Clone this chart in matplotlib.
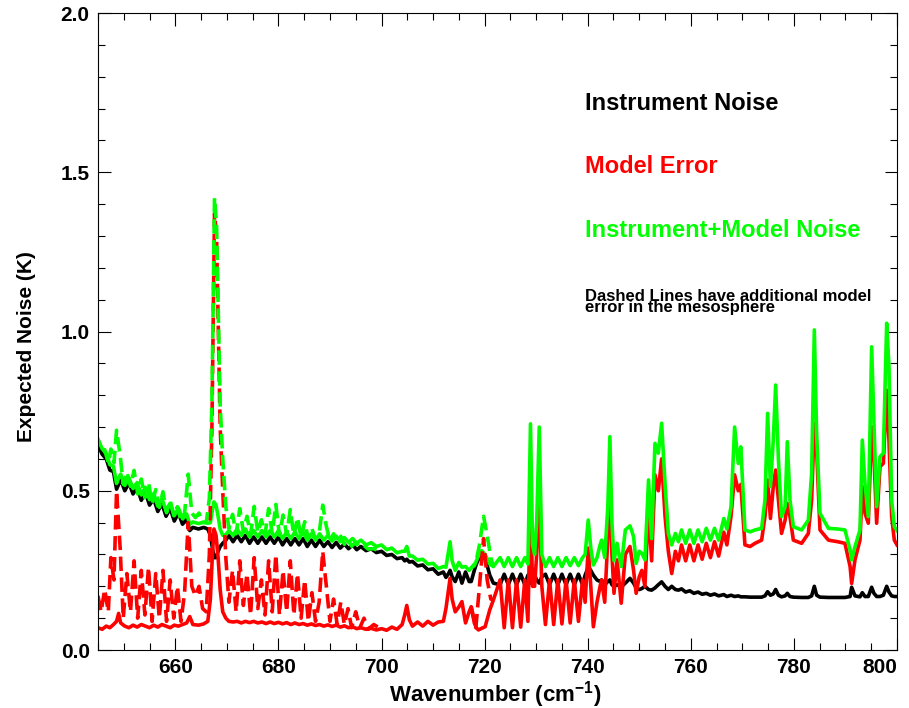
# Expected noise spectrum: instrument noise, model error, and combined
import numpy as np
import matplotlib.pyplot as plt
from matplotlib.ticker import MultipleLocator, FormatStrFormatter

# wavenumber grid (cm-1) shared by the solid curves
wn = [645.0, 645.8, 646.6, 647.3, 648.0, 648.6, 649.0, 649.4, 650.2, 651.0,
      651.8, 652.6, 653.4, 654.2, 655.0, 655.8, 656.6, 657.4, 658.2, 659.0,
      659.8, 660.6, 661.4, 662.2, 662.8, 663.4, 664.5, 665.5, 666.3, 666.8,
      667.2, 667.5, 667.9, 668.3, 668.7, 669.2, 669.8, 670.4,
      671.2, 672.0, 672.8, 673.6, 674.4, 675.2, 676.0, 676.8, 677.6, 678.4,
      679.2, 680.0, 680.8, 681.6, 682.4, 683.2, 684.0, 684.8, 685.6, 686.4,
      687.2, 688.0, 688.8, 689.6, 690.4, 691.2, 692.0, 692.8, 693.6, 694.4,
      695.2, 696.0, 697.0, 698.0, 699.0, 700.0, 701.0, 702.0, 703.0, 704.0,
      704.5, 704.9, 705.4, 706.0, 707.0, 708.0, 709.0, 710.0, 711.0, 712.0,
      712.5, 713.0, 713.3, 713.7, 714.3, 715.0, 715.6, 716.3, 717.0, 717.4,
      718.0, 718.4, 718.8, 719.4, 720.1, 721.0, 721.7,
      723.0, 723.8, 724.6, 725.4, 726.2, 727.0, 727.8, 728.4, 728.9, 729.3,
      729.7, 730.1, 730.6, 731.1, 731.8, 732.6, 733.4, 734.2, 735.0, 735.8,
      736.6, 737.4, 738.2, 739.0, 739.5, 740.1, 740.6, 741.1, 741.8, 742.4,
      742.7, 743.3, 743.9, 744.3, 744.7, 745.1,
      745.7, 746.5, 747.3, 748.2, 748.9, 749.4, 750.0, 750.5, 751.1, 751.8,
      752.4, 753.05, 753.7, 754.34, 755.0, 755.64, 756.3, 757.0, 757.6, 758.2,
      759.0, 759.8, 760.6, 761.4, 762.2, 763.0, 763.8, 764.6, 765.4, 766.4,
      767.0, 767.8, 768.5, 769.2, 769.7, 770.5, 771.5,
      772.45, 773.74, 774.39, 774.9, 775.45, 776.0, 776.46, 777.0, 777.6, 778.3,
      778.72, 779.24, 779.89, 781.5, 782.8, 783.44, 783.96, 784.41, 785.06, 786.7,
      788.5, 789.9, 790.9, 791.2, 791.85, 792.82, 793.27, 793.79, 794.43, 795.08,
      795.53, 796.05, 796.7, 797.35, 798.0, 798.44, 798.96, 799.48, 800.0]

instrument = [0.645, 0.615, 0.60, 0.565, 0.56, 0.505, 0.52, 0.535, 0.50, 0.525,
              0.49, 0.51, 0.47, 0.495, 0.455, 0.475, 0.435, 0.46, 0.42, 0.445,
              0.405, 0.43, 0.395, 0.41, 0.375, 0.385, 0.38, 0.385, 0.38, 0.36,
              0.32, 0.29, 0.29, 0.31, 0.325, 0.335, 0.345, 0.36,
              0.34, 0.36, 0.34, 0.36, 0.335, 0.355, 0.335, 0.355, 0.335, 0.355,
              0.335, 0.355, 0.33, 0.35, 0.33, 0.35, 0.33, 0.35, 0.325, 0.345,
              0.325, 0.345, 0.325, 0.34, 0.322, 0.338, 0.32, 0.333, 0.318, 0.33,
              0.315, 0.325, 0.312, 0.318, 0.306, 0.31, 0.297, 0.30, 0.287, 0.29,
              0.28, 0.285, 0.276, 0.278, 0.264, 0.267, 0.252, 0.255, 0.238, 0.245,
              0.228, 0.24, 0.25, 0.23, 0.215, 0.245, 0.21, 0.245, 0.215, 0.215,
              0.25, 0.27, 0.285, 0.303, 0.29, 0.235, 0.21,
              0.205, 0.238, 0.205, 0.238, 0.205, 0.238, 0.205, 0.235, 0.21, 0.22,
              0.235, 0.22, 0.21, 0.23, 0.238, 0.205, 0.238, 0.205, 0.238, 0.205,
              0.238, 0.205, 0.238, 0.205, 0.235, 0.26, 0.25, 0.235, 0.22, 0.215,
              0.22, 0.205, 0.215, 0.22, 0.205, 0.2,
              0.205, 0.198, 0.21, 0.225, 0.21, 0.195, 0.19, 0.193, 0.2, 0.19,
              0.188, 0.195, 0.205, 0.214, 0.2, 0.19, 0.2, 0.19, 0.188, 0.192,
              0.182, 0.186, 0.178, 0.182, 0.175, 0.178, 0.172, 0.176, 0.17, 0.174,
              0.168, 0.172, 0.168, 0.17, 0.167, 0.167, 0.166,
              0.166, 0.166, 0.17, 0.183, 0.172, 0.176, 0.19, 0.172, 0.167, 0.17,
              0.178, 0.168, 0.166, 0.165, 0.165, 0.17, 0.2, 0.172, 0.166, 0.165,
              0.165, 0.165, 0.168, 0.197, 0.17, 0.167, 0.18, 0.168, 0.168, 0.197,
              0.178, 0.168, 0.168, 0.172, 0.2, 0.182, 0.17, 0.168, 0.168]

model = [0.07, 0.065, 0.075, 0.07, 0.08, 0.09, 0.115, 0.085, 0.075, 0.07,
         0.078, 0.072, 0.08, 0.075, 0.07, 0.078, 0.072, 0.08, 0.075, 0.07,
         0.078, 0.075, 0.08, 0.085, 0.105, 0.08, 0.078, 0.082, 0.09, 0.16,
         0.30, 0.38, 0.36, 0.29, 0.19, 0.12, 0.10, 0.09,
         0.088, 0.09, 0.085, 0.09, 0.086, 0.09, 0.085, 0.088, 0.083, 0.088,
         0.083, 0.087, 0.082, 0.086, 0.08, 0.085, 0.08, 0.083, 0.078, 0.082,
         0.077, 0.08, 0.075, 0.079, 0.074, 0.078, 0.072, 0.076, 0.07, 0.073,
         0.067, 0.07, 0.065, 0.068, 0.063, 0.067, 0.062, 0.072, 0.065, 0.08,
         0.11, 0.14, 0.095, 0.075, 0.088, 0.075, 0.09, 0.078, 0.088, 0.09,
         0.13, 0.19, 0.225, 0.16, 0.12, 0.135, 0.152, 0.085, 0.12, 0.136,
         0.085, 0.07, 0.063, 0.068, 0.073, 0.126, 0.157,
         0.22, 0.07, 0.22, 0.07, 0.22, 0.072, 0.22, 0.09, 0.48, 0.2,
         0.2, 0.3, 0.48, 0.2, 0.08, 0.22, 0.08, 0.22, 0.082, 0.22,
         0.085, 0.22, 0.09, 0.22, 0.15, 0.32, 0.2, 0.073, 0.15, 0.2,
         0.22, 0.15, 0.35, 0.544, 0.3, 0.178,
         0.283, 0.147, 0.30, 0.325, 0.25, 0.178, 0.23, 0.25, 0.2, 0.45,
         0.28, 0.55, 0.5, 0.6, 0.42, 0.31, 0.24, 0.31, 0.28, 0.33,
         0.28, 0.33, 0.28, 0.33, 0.285, 0.335, 0.29, 0.34, 0.295, 0.37,
         0.33, 0.42, 0.55, 0.5, 0.52, 0.33, 0.325,
         0.335, 0.345, 0.419, 0.534, 0.413, 0.513, 0.565, 0.471, 0.366, 0.408,
         0.46, 0.419, 0.345, 0.335, 0.366, 0.471, 0.712, 0.628, 0.377, 0.345,
         0.34, 0.335, 0.262, 0.209, 0.283, 0.345, 0.513, 0.429, 0.398, 0.701,
         0.607, 0.398, 0.576, 0.586, 0.816, 0.659, 0.419, 0.345, 0.33]

combined = [0.662, 0.632, 0.617, 0.582, 0.577, 0.523, 0.54, 0.552, 0.517, 0.541,
            0.507, 0.526, 0.487, 0.511, 0.472, 0.491, 0.452, 0.476, 0.437, 0.461,
            0.422, 0.446, 0.412, 0.427, 0.395, 0.402, 0.397, 0.402, 0.398, 0.40,
            0.44, 0.465, 0.455, 0.42, 0.38, 0.36, 0.362, 0.375,
            0.36, 0.38, 0.36, 0.38, 0.355, 0.375, 0.355, 0.375, 0.355, 0.375,
            0.355, 0.375, 0.35, 0.37, 0.35, 0.37, 0.35, 0.37, 0.345, 0.365,
            0.345, 0.365, 0.345, 0.36, 0.342, 0.358, 0.34, 0.353, 0.338, 0.35,
            0.335, 0.345, 0.33, 0.337, 0.325, 0.33, 0.315, 0.32, 0.305, 0.31,
            0.31, 0.325, 0.295, 0.295, 0.282, 0.285, 0.27, 0.272, 0.256, 0.262,
            0.26, 0.31, 0.34, 0.28, 0.25, 0.275, 0.26, 0.262, 0.25, 0.258,
            0.265, 0.28, 0.295, 0.312, 0.30, 0.27, 0.262,
            0.29, 0.262, 0.29, 0.262, 0.29, 0.262, 0.29, 0.27, 0.71, 0.33,
            0.30, 0.4, 0.70, 0.3, 0.262, 0.29, 0.262, 0.29, 0.262, 0.29,
            0.265, 0.29, 0.265, 0.29, 0.3, 0.408, 0.32, 0.267, 0.29, 0.33,
            0.345, 0.29, 0.45, 0.67, 0.4, 0.28,
            0.335, 0.262, 0.377, 0.39, 0.356, 0.272, 0.31, 0.304, 0.283, 0.534,
            0.35, 0.649, 0.618, 0.712, 0.523, 0.366, 0.33, 0.366, 0.34, 0.377,
            0.335, 0.377, 0.335, 0.377, 0.34, 0.382, 0.345, 0.382, 0.345, 0.413,
            0.38, 0.45, 0.70, 0.586, 0.638, 0.377, 0.371,
            0.377, 0.382, 0.471, 0.743, 0.513, 0.659, 0.832, 0.597, 0.419, 0.45,
            0.654, 0.471, 0.387, 0.377, 0.408, 0.555, 1.005, 0.68, 0.429, 0.382,
            0.38, 0.377, 0.314, 0.283, 0.325, 0.377, 0.659, 0.523, 0.419, 0.952,
            0.712, 0.45, 0.607, 0.618, 1.026, 0.89, 0.471, 0.387, 0.375]

# dashed curves (extra mesospheric model error), only where they differ
wn_dash = [645.0, 645.6, 646.3, 647.0, 647.5, 648.1, 648.6, 649.3, 649.9, 650.6,
           651.3, 652.0, 652.7, 653.4, 654.1, 654.8, 655.5, 656.2, 656.9, 657.6,
           658.3, 659.0, 659.7, 660.4, 661.1, 661.8, 662.5, 663.2, 663.9, 664.6,
           665.3, 666.0, 666.6, 667.1, 667.6, 668.0, 668.7, 669.2, 669.8, 670.4,
           671.1, 671.8, 672.5, 673.2, 673.9, 674.6, 675.3, 676.0, 676.7, 677.4,
           678.1, 678.8, 679.5, 680.2, 680.9, 681.6, 682.3, 683.0, 683.7, 684.4,
           685.1, 685.8, 686.5, 687.2, 687.9, 688.6, 689.3, 690.0, 690.7, 691.4,
           692.1, 692.8, 693.5, 694.2, 695.0, 695.8, 696.6, 697.4, 698.5, 700.0,
           np.nan, 717.4, 718.3, 719.0, 719.8, 720.5, 721.2, 721.7]

model_meso = [0.17, 0.12, 0.19, 0.12, 0.29, 0.22, 0.50, 0.32, 0.10, 0.24,
              0.12, 0.28, 0.10, 0.25, 0.11, 0.26, 0.09, 0.24, 0.10, 0.25,
              0.09, 0.22, 0.10, 0.20, 0.09, 0.18, 0.40, 0.20, 0.17, 0.20,
              0.13, 0.12, 0.30, 0.70, 1.37, 1.30, 0.70, 0.50, 0.29, 0.15,
              0.25, 0.12, 0.28, 0.14, 0.24, 0.11, 0.29, 0.13, 0.22, 0.11,
              0.28, 0.12, 0.30, 0.11, 0.25, 0.12, 0.28, 0.11, 0.24, 0.10,
              0.22, 0.09, 0.18, 0.09, 0.15, 0.31, 0.20, 0.09, 0.16, 0.08,
              0.15, 0.08, 0.13, 0.07, 0.12, 0.07, 0.10, 0.065, 0.08, 0.065,
              np.nan, 0.136, 0.07, 0.2, 0.35, 0.22, 0.16, 0.157]

combined_meso = [0.662, 0.631, 0.629, 0.587, 0.631, 0.588, 0.69, 0.611, 0.52, 0.559,
                 0.514, 0.564, 0.49, 0.537, 0.478, 0.526, 0.459, 0.504, 0.448, 0.497,
                 0.431, 0.47, 0.422, 0.45, 0.405, 0.43, 0.552, 0.43, 0.416, 0.43,
                 0.40, 0.40, 0.476, 0.778, 1.42, 1.334, 0.77, 0.60, 0.45, 0.381,
                 0.426, 0.365, 0.444, 0.372, 0.42, 0.362, 0.451, 0.369, 0.409, 0.362,
                 0.444, 0.365, 0.457, 0.36, 0.424, 0.362, 0.441, 0.357, 0.416, 0.353,
                 0.403, 0.349, 0.381, 0.347, 0.366, 0.455, 0.388, 0.342, 0.365, 0.336,
                 0.357, 0.332, 0.345, 0.326, 0.338, 0.322, 0.328, 0.317, 0.318, 0.307,
                 np.nan, 0.258, 0.275, 0.33, 0.42, 0.36, 0.29, 0.262]

x_ticks = [660, 680, 700, 720, 740, 760, 780, 800]

GREEN = '#00ff00'
plt.rcParams['font.family'] = 'Liberation Sans'
plt.rcParams['font.weight'] = 'bold'
plt.rcParams['mathtext.fontset'] = 'custom'
plt.rcParams['mathtext.rm'] = 'Liberation Sans:bold'
plt.rcParams['mathtext.default'] = 'rm'

fig = plt.figure(figsize=(9.09, 7.08), dpi=100)
ax = fig.add_axes([0.1078, 0.0819, 0.8790, 0.8997])

lw = 2.6
ax.plot(wn, instrument, color='black', lw=lw)
ax.plot(wn, model, color='red', lw=lw)
ax.plot(wn, combined, color=GREEN, lw=lw)
ax.plot(wn_dash, model_meso, color='red', lw=lw, ls=(0, (4, 1.8)))
ax.plot(wn_dash, combined_meso, color=GREEN, lw=lw, ls=(2.5, (4, 1.8)))

ax.set_xlim(645, 800)
ax.set_ylim(0, 2.0)
ax.set_xticks(x_ticks)
ax.xaxis.set_minor_locator(MultipleLocator(5))
ax.yaxis.set_major_locator(MultipleLocator(0.5))
ax.yaxis.set_minor_locator(MultipleLocator(0.1))
ax.yaxis.set_major_formatter(FormatStrFormatter('%.1f'))
ax.tick_params(which='both', direction='in', top=True, right=True, width=0.8,
               labelsize=15, pad=6)
ax.tick_params(which='major', length=9)
ax.tick_params(which='minor', length=5)

# last x label is pulled inside the figure, as in the original
ax.get_xticklabels()[-1].set_horizontalalignment('right')

ax.set_xlabel('Wavenumber (cm$^{-1}$)', fontsize=16, fontweight='bold')
ax.set_ylabel('Expected Noise (K)', fontsize=15, fontweight='bold')
ax.xaxis.set_label_coords(0.497, -0.045)
ax.yaxis.set_label_coords(-0.077, 0.477)

tx = 739.5
ax.text(tx, 1.695, 'Instrument Noise', color='black', fontsize=17, fontweight='bold')
ax.text(tx, 1.498, 'Model Error', color='red', fontsize=17, fontweight='bold')
ax.text(tx, 1.297, 'Instrument+Model Noise', color=GREEN, fontsize=17, fontweight='bold')
ax.text(tx, 1.061, 'Dashed Lines have additional model\nerror in the mesosphere',
        color='black', fontsize=12, fontweight='bold', linespacing=0.68,
        va='baseline')

fig.savefig('out.png', dpi=100)
